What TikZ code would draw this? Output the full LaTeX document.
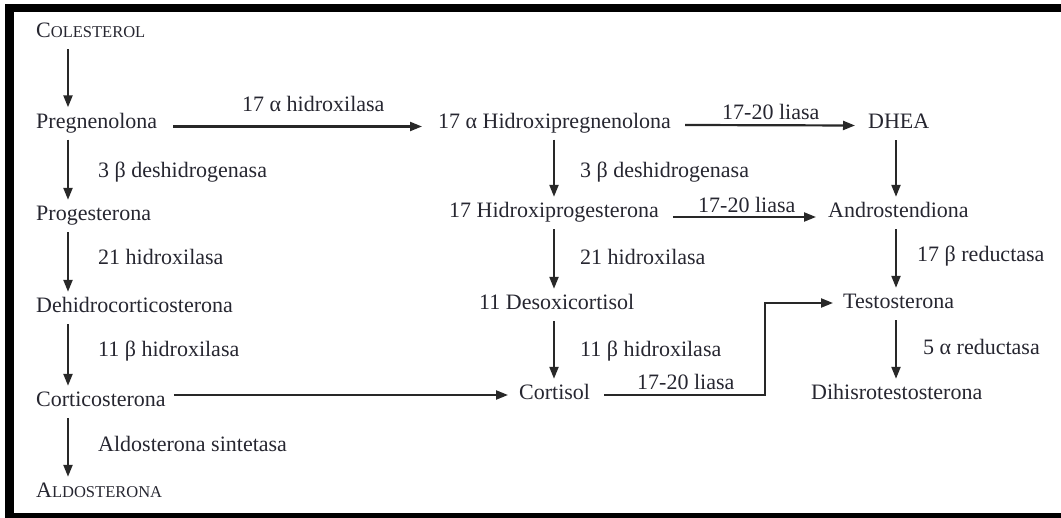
\documentclass[tikz,border=0pt]{standalone}
\usepackage{fontspec}
\setmainfont{Liberation Serif}
\usetikzlibrary{arrows.meta,calc}
\definecolor{ink}{RGB}{38,38,48}
\definecolor{lineink}{RGB}{40,40,40}
\newcommand{\smc}[2]{{\fontsize{22}{26}\selectfont #1}{\fontsize{16.5}{20}\selectfont #2}}
\begin{document}
\begin{tikzpicture}[x=1pt,y=-1pt,
  every node/.style={font=\fontsize{22}{26}\selectfont, text=ink},
  comp/.style={anchor=base west, inner xsep=0pt, inner ysep=6pt, text height=15pt, text depth=5pt},
  enz/.style={anchor=base west, inner sep=0pt},
  arr/.style={draw=lineink, line width=2.2pt, line join=miter, -{Triangle[length=12pt,width=9pt]}}]
\useasboundingbox (0,0) rectangle (1061,518);
% frame
\fill[black] (5,4) rectangle (1061,12);
\fill[black] (5,4) rectangle (14,518);
\fill[black] (5,513) rectangle (1061,518);
% column guides
\coordinate (lx) at (68,0);
\coordinate (mx) at (554,0);
\coordinate (rx) at (896,0);
\coordinate (kx) at (765,0);
% left column
\node[comp] (col) at (36,38) {\smc{C}{OLESTEROL}};
\node[comp] (preg) at (36,128.5) {Pregnenolona};
\node[comp] (prog) at (36,221) {Progesterona};
\node[comp] (dcort) at (36,313) {Dehidrocorticosterona};
\node[comp] (cort) at (36,407) {Corticosterona};
\node[comp] (aldo) at (36,498) {\smc{A}{LDOSTERONA}};
% middle column
\node[comp] (hpreg) at (438,128.5) {17 α Hidroxipregnenolona};
\node[comp] (hprog) at (449,218) {17 Hidroxiprogesterona};
\node[comp] (desox) at (479,310) {11 Desoxicortisol};
\node[comp] (cortisol) at (519,400) {Cortisol};
% right column
\node[comp] (dhea) at (868,129) {DHEA};
\node[comp] (andro) at (828,218) {Androstendiona};
\node[comp] (testo) at (843,309) {Testosterona};
\node[comp] (dihis) at (811,400) {Dihisrotestosterona};
% enzyme labels
\node[enz] (e1) at (242,112) {17 α hidroxilasa};
\node[enz] (e2) at (722,120) {17-20 liasa};
\node[enz] (e3) at (698,213) {17-20 liasa};
\node[enz] (e4) at (637,390) {17-20 liasa};
\node[enz] (e5) at (98,178) {3 β deshidrogenasa};
\node[enz] (e6) at (98,265) {21 hidroxilasa};
\node[enz] (e7) at (98,357) {11 β hidroxilasa};
\node[enz] (e8) at (98,452) {Aldosterona sintetasa};
\node[enz] (e9) at (580,178) {3 β deshidrogenasa};
\node[enz] (e10) at (580,265) {21 hidroxilasa};
\node[enz] (e11) at (580,357) {11 β hidroxilasa};
\node[enz] (e12) at (917,262) {17 β reductasa};
\node[enz] (e13) at (923,355) {5 α reductasa};
% vertical arrows left
\draw[arr] (col.south -| lx) -- (preg.north -| lx);
\draw[arr] (preg.south -| lx) -- (prog.north -| lx);
\draw[arr] (prog.south -| lx) -- (dcort.north -| lx);
\draw[arr] (dcort.south -| lx) -- (cort.north -| lx);
\draw[arr] (cort.south -| lx) -- (aldo.north -| lx);
% vertical arrows middle
\draw[arr] (hpreg.south -| mx) -- (hprog.north -| mx);
\draw[arr] (hprog.south -| mx) -- (desox.north -| mx);
\draw[arr] (desox.south -| mx) -- (cortisol.north -| mx);
% vertical arrows right
\draw[arr] (dhea.south -| rx) -- (andro.north -| rx);
\draw[arr] (andro.south -| rx) -- (testo.north -| rx);
\draw[arr] (testo.south -| rx) -- (dihis.north -| rx);
% horizontal arrows
\draw[arr] ([xshift=16pt,yshift=2pt]preg.base east) -- ([xshift=-16pt,yshift=2pt]hpreg.base west);
\draw[arr] ([xshift=14pt,yshift=3.5pt]hpreg.base east) -- ([xshift=-13pt,yshift=3.5pt]dhea.base west);
\draw[arr] ([xshift=14pt,yshift=1pt]hprog.base east) -- ([xshift=-12pt,yshift=1pt]andro.base west);
\coordinate (c2) at ([xshift=-11pt,yshift=5pt]cortisol.base west);
\coordinate (cs) at ([xshift=8pt]cort.base east);
\draw[arr] (cs |- c2) -- (c2);
\coordinate (c3) at ([xshift=14pt,yshift=5pt]cortisol.base east);
\coordinate (t2) at ([xshift=-10pt,yshift=6pt]testo.base west);
\draw[arr] (c3) -- (c3 -| kx) -- (kx |- t2) -- (t2);
\end{tikzpicture}
\end{document}
